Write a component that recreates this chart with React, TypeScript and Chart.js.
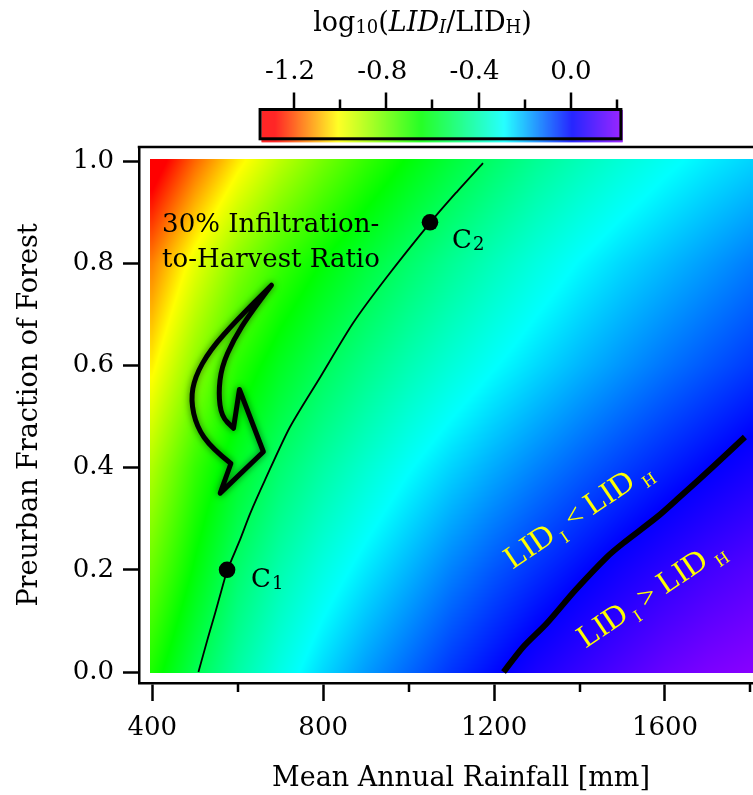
import React, { useEffect, useRef } from 'react';
import { Chart, registerables } from 'chart.js';

Chart.register(...registerables);

const SERIF = '"DejaVu Serif", serif';
const TIMES = '"Liberation Serif", serif';

// ---------------- data ----------------
const rainfallGrid = [400, 500, 600, 700, 800, 900, 1000, 1100, 1200, 1300, 1400, 1500, 1600, 1700, 1800];
const forestGrid = [0, 0.2, 0.4, 0.6, 0.8, 1.0];
const logRatioF00 = [-0.69, -0.545, -0.425, -0.33, -0.25, -0.18, -0.12, -0.06, -0.01, 0.04, 0.08, 0.12, 0.16, 0.19, 0.21];
const logRatioF02 = [-0.8, -0.645, -0.505, -0.41, -0.335, -0.27, -0.21, -0.15, -0.1, -0.055, -0.012, 0.028, 0.065, 0.1, 0.13];
const logRatioF04 = [-0.9, -0.73, -0.6, -0.5, -0.425, -0.36, -0.3, -0.245, -0.197, -0.152, -0.111, -0.073, -0.037, -0.003, 0.03];
const logRatioF06 = [-1.03, -0.855, -0.71, -0.61, -0.53, -0.463, -0.403, -0.349, -0.299, -0.253, -0.211, -0.172, -0.135, -0.101, -0.068];
const logRatioF08 = [-1.15, -0.985, -0.845, -0.735, -0.65, -0.574, -0.507, -0.446, -0.39, -0.338, -0.291, -0.25, -0.215, -0.18, -0.145];
const logRatioF10 = [-1.347, -1.18, -1.037, -0.919, -0.817, -0.726, -0.646, -0.573, -0.506, -0.445, -0.395, -0.35, -0.31, -0.275, -0.245];
const logRatioRows = [logRatioF00, logRatioF02, logRatioF04, logRatioF06, logRatioF08, logRatioF10];
const heatRainfallExtent = [395, 1812];
const heatForestExtent = [-0.002, 1.004];

// 30% infiltration-to-harvest contour (log10 = -0.523)
const contour30Rainfall = [508, 531, 547, 562, 576, 605, 629, 664, 722, 793, 870, 949, 1050, 1110, 1174];
const contour30Forest = [0, 0.069, 0.115, 0.16, 0.2, 0.258, 0.31, 0.376, 0.479, 0.577, 0.683, 0.773, 0.879, 0.937, 0.996];
// LID_I = LID_H contour (log10 = 0)
const contour0Rainfall = [1222, 1268, 1323, 1390, 1464, 1502, 1581, 1635, 1713, 1787];
const contour0Forest = [0, 0.049, 0.095, 0.16, 0.225, 0.252, 0.303, 0.343, 0.402, 0.46];

// case points C1, C2
const caseSubscripts = ['1', '2'];
const caseRainfall = [575, 1050];
const caseForest = [0.2, 0.88];

// curved arrow outline (data coordinates)
const arrowRainfall = [679, 629, 590, 562, 555, 562, 590, 604, 660, 559, 584, 539, 504, 490, 500, 535, 598];
const arrowForest = [0.757, 0.702, 0.65, 0.597, 0.545, 0.5, 0.477, 0.553, 0.431, 0.35, 0.408, 0.438, 0.48, 0.532, 0.578, 0.63, 0.689];

// ticks
const xMajorTicks = [400, 800, 1200, 1600];
const xMinorTicks = [600, 1000, 1400, 1800];
const yTicks = [0, 0.2, 0.4, 0.6, 0.8, 1.0];
const cbMajorTicks = [-1.2, -0.8, -0.4, 0.0];
const cbMinorTicks = [-1.0, -0.6, -0.2, 0.2];
const cbRange = [-1.347, 0.217];

// colour table
const cmapValues = [-1.347, -1.29, -1.015, -0.655, -0.295, 0.0, 0.217];
const cmapColors = ['#ff0000', '#ff0000', '#ffff00', '#00ff00', '#00ffff', '#0000ff', '#8c00ff'];

// ---------------- helpers ----------------
const cmapRGB = cmapColors.map((h) => [parseInt(h.slice(1, 3), 16), parseInt(h.slice(3, 5), 16), parseInt(h.slice(5, 7), 16)]);

function colorFor(v: number): number[] {
  const n = cmapValues.length;
  if (v <= cmapValues[0]) return cmapRGB[0];
  if (v >= cmapValues[n - 1]) return cmapRGB[n - 1];
  let k = 0;
  while (k < n - 2 && v > cmapValues[k + 1]) k++;
  const t = (v - cmapValues[k]) / (cmapValues[k + 1] - cmapValues[k]);
  const a = cmapRGB[k], b = cmapRGB[k + 1];
  return [a[0] + (b[0] - a[0]) * t, a[1] + (b[1] - a[1]) * t, a[2] + (b[2] - a[2]) * t];
}

function fieldAt(r: number, f: number): number {
  const nr = rainfallGrid.length, nf = forestGrid.length;
  const rc = Math.min(Math.max(r, rainfallGrid[0]), rainfallGrid[nr - 1]);
  const fc = Math.min(Math.max(f, forestGrid[0]), forestGrid[nf - 1]);
  let i = 0;
  while (i < nr - 2 && rc > rainfallGrid[i + 1]) i++;
  let j = 0;
  while (j < nf - 2 && fc > forestGrid[j + 1]) j++;
  const tx = (rc - rainfallGrid[i]) / (rainfallGrid[i + 1] - rainfallGrid[i]);
  const ty = (fc - forestGrid[j]) / (forestGrid[j + 1] - forestGrid[j]);
  const a = logRatioRows[j][i], b = logRatioRows[j][i + 1];
  const c = logRatioRows[j + 1][i], d = logRatioRows[j + 1][i + 1];
  return (a * (1 - tx) + b * tx) * (1 - ty) + (c * (1 - tx) + d * tx) * ty;
}

type Part = { t: string; size: number; italic?: boolean; dy?: number; gap?: number; family?: string };

function drawRich(ctx: CanvasRenderingContext2D, parts: Part[], x: number, y: number, align: 'left' | 'center') {
  const fontOf = (p: Part) => `${p.italic ? 'italic ' : ''}${p.size}px ${p.family || SERIF}`;
  const widths = parts.map((p) => {
    ctx.font = fontOf(p);
    return ctx.measureText(p.t).width + (p.gap || 0);
  });
  const total = widths.reduce((s, w) => s + w, 0);
  let cx = align === 'center' ? x - total / 2 : x;
  ctx.textAlign = 'left';
  ctx.textBaseline = 'alphabetic';
  parts.forEach((p, i) => {
    ctx.font = fontOf(p);
    ctx.fillText(p.t, cx + (p.gap || 0), y + (p.dy || 0));
    cx += widths[i];
  });
}

// ---------------- annotation layout ----------------
const notes = {
  infiltration: { x: 423, y: 0.861, lines: ['30% Infiltration-', 'to-Harvest Ratio'], lineGap: 35, size: 26 },
  caseLabelOffsets: [[24, 17.5], [22, 26]],
  lidLess: { x: 1408, y: 0.2935, sign: '<' },
  lidMore: { x: 1579, y: 0.139, sign: '>' },
  lidAngleDeg: -34,
};

const heatmapPlugin = {
  id: 'heatmap',
  beforeDatasetsDraw(chart: any) {
    const { ctx } = chart;
    const xs = chart.scales.x, ys = chart.scales.y;
    const left = Math.round(xs.getPixelForValue(heatRainfallExtent[0]));
    const right = Math.min(Math.round(xs.getPixelForValue(heatRainfallExtent[1])), chart.width);
    const top = Math.round(ys.getPixelForValue(heatForestExtent[1]));
    const bottom = Math.round(ys.getPixelForValue(heatForestExtent[0]));
    const w = right - left, h = bottom - top;
    if (w <= 0 || h <= 0) return;
    const off = document.createElement('canvas');
    off.width = w;
    off.height = h;
    const octx = off.getContext('2d')!;
    const img = octx.createImageData(w, h);
    const rs: number[] = [];
    for (let i = 0; i < w; i++) rs.push(xs.getValueForPixel(left + i + 0.5));
    for (let j = 0; j < h; j++) {
      const f = ys.getValueForPixel(top + j + 0.5);
      for (let i = 0; i < w; i++) {
        const c = colorFor(fieldAt(rs[i], f));
        const k = (j * w + i) * 4;
        img.data[k] = c[0];
        img.data[k + 1] = c[1];
        img.data[k + 2] = c[2];
        img.data[k + 3] = 255;
      }
    }
    octx.putImageData(img, 0, 0);
    ctx.drawImage(off, left, top);
  },
};

function smoothPath(ctx: CanvasRenderingContext2D, pts: number[][]) {
  for (let i = 1; i < pts.length - 1; i++) {
    const mx = (pts[i][0] + pts[i + 1][0]) / 2, my = (pts[i][1] + pts[i + 1][1]) / 2;
    ctx.quadraticCurveTo(pts[i][0], pts[i][1], mx, my);
  }
  const last = pts[pts.length - 1];
  ctx.lineTo(last[0], last[1]);
}

const annotationPlugin = {
  id: 'annotations',
  afterDatasetsDraw(chart: any) {
    const { ctx } = chart;
    const xs = chart.scales.x, ys = chart.scales.y;
    const P = (r: number, f: number) => [xs.getPixelForValue(r), ys.getPixelForValue(f)];
    ctx.save();

    // curved arrow
    const pts = arrowRainfall.map((r, i) => P(r, arrowForest[i]));
    ctx.beginPath();
    ctx.moveTo(pts[0][0], pts[0][1]);
    smoothPath(ctx, pts.slice(0, 7));
    for (let i = 7; i <= 10; i++) ctx.lineTo(pts[i][0], pts[i][1]);
    smoothPath(ctx, [...pts.slice(10, 17), pts[0]]);
    ctx.closePath();
    ctx.lineWidth = 5;
    ctx.lineJoin = 'round';
    ctx.lineCap = 'round';
    ctx.strokeStyle = '#000';
    ctx.shadowColor = 'rgba(0,0,0,0.55)';
    ctx.shadowBlur = 7;
    ctx.stroke();
    ctx.shadowBlur = 0;
    ctx.shadowColor = 'transparent';

    // infiltration label
    const inf = notes.infiltration;
    const [ix, iy] = P(inf.x, inf.y);
    ctx.fillStyle = '#000';
    ctx.font = `${inf.size}px ${SERIF}`;
    ctx.textAlign = 'left';
    ctx.textBaseline = 'alphabetic';
    inf.lines.forEach((line, k) => ctx.fillText(line, ix, iy + k * inf.lineGap));

    // case labels
    caseSubscripts.forEach((s, k) => {
      const [cx, cy] = P(caseRainfall[k], caseForest[k]);
      const off = notes.caseLabelOffsets[k];
      drawRich(ctx, [
        { t: 'C', size: 26 },
        { t: s, size: 18, dy: 2, gap: 1 },
      ], cx + off[0], cy + off[1], 'left');
    });

    // LID comparison labels
    ctx.fillStyle = '#ffff00';
    [notes.lidLess, notes.lidMore].forEach((n) => {
      const [lx, ly] = P(n.x, n.y);
      ctx.save();
      ctx.translate(lx, ly);
      ctx.rotate((notes.lidAngleDeg * Math.PI) / 180);
      drawRich(ctx, [
        { t: 'LID', size: 32, family: TIMES },
        { t: 'I', size: 18, dy: 8, gap: 5, family: TIMES },
        { t: ' ' + n.sign + ' ', size: 30, family: TIMES },
        { t: 'LID', size: 32, family: TIMES },
        { t: 'H', size: 18, dy: 8, gap: 7, family: TIMES },
      ], 0, 0, 'center');
      ctx.restore();
    });
    ctx.restore();
  },
  afterDraw(chart: any) {
    const { ctx, chartArea } = chart;
    const xs = chart.scales.x, cb = chart.scales.cb;
    ctx.save();
    ctx.strokeStyle = '#000';
    ctx.fillStyle = '#000';

    // top frame line
    ctx.lineWidth = 2.5;
    ctx.beginPath();
    ctx.moveTo(chartArea.left - 1.25, chartArea.top);
    ctx.lineTo(chartArea.right, chartArea.top);
    ctx.stroke();

    // minor x ticks
    xMinorTicks.forEach((v) => {
      const x = Math.round(xs.getPixelForValue(v));
      ctx.beginPath();
      ctx.moveTo(x, chartArea.bottom);
      ctx.lineTo(x, chartArea.bottom + 9);
      ctx.stroke();
    });

    // x axis title
    ctx.font = `27px ${SERIF}`;
    ctx.textAlign = 'center';
    ctx.textBaseline = 'alphabetic';
    ctx.fillText('Mean Annual Rainfall [mm]', 461, 786);

    // colour bar
    const c0 = cb.getPixelForValue(cbRange[0]);
    const c1 = cb.getPixelForValue(cbRange[1]);
    const barTop = 109.5, barBottom = 138.8;
    for (let x = Math.floor(c0); x < Math.ceil(c1); x++) {
      const c = colorFor(cb.getValueForPixel(x + 0.5));
      ctx.fillStyle = `rgb(${Math.round(c[0])},${Math.round(c[1])},${Math.round(c[2])})`;
      ctx.fillRect(x + 1.5, barTop + 0.5, 1.2, barBottom - barTop + 3);
    }
    ctx.strokeStyle = '#000';
    ctx.lineWidth = 3;
    ctx.strokeRect(c0, barTop, c1 - c0, barBottom - barTop);

    ctx.lineWidth = 2.5;
    cbMajorTicks.forEach((v) => {
      const x = Math.round(cb.getPixelForValue(v));
      ctx.beginPath();
      ctx.moveTo(x, barTop - 1.5);
      ctx.lineTo(x, barTop - 17);
      ctx.stroke();
    });
    cbMinorTicks.forEach((v) => {
      const x = Math.round(cb.getPixelForValue(v));
      ctx.beginPath();
      ctx.moveTo(x, barTop - 1.5);
      ctx.lineTo(x, barTop - 10);
      ctx.stroke();
    });
    ctx.fillStyle = '#000';
    ctx.font = `26px ${SERIF}`;
    ctx.textAlign = 'center';
    ctx.textBaseline = 'middle';
    cbMajorTicks.forEach((v) => {
      ctx.fillText(v.toFixed(1), cb.getPixelForValue(v) - (v < 0 ? 4 : 0), 72);
    });

    // colour bar title
    drawRich(ctx, [
      { t: 'log', size: 27 },
      { t: '10', size: 18, dy: 2 },
      { t: '(', size: 27 },
      { t: 'LID', size: 27, italic: true },
      { t: 'I', size: 18, italic: true, dy: 2 },
      { t: '/', size: 27 },
      { t: 'LID', size: 27 },
      { t: 'H', size: 18, dy: 2 },
      { t: ')', size: 27 },
    ], 422.5, 31, 'center');
    ctx.restore();
  },
};

export default function App() {
  const ref = useRef<HTMLCanvasElement>(null);
  useEffect(() => {
    const canvas = ref.current;
    if (!canvas) return;
    const chart = new Chart(canvas, {
      type: 'scatter',
      data: {
        datasets: [
          {
            data: contour30Rainfall.map((r, i) => ({ x: r, y: contour30Forest[i] })),
            showLine: true,
            borderColor: '#000',
            borderWidth: 1.8,
            pointRadius: 0,
            tension: 0.25,
            xAxisID: 'x',
            yAxisID: 'y',
          },
          {
            data: contour0Rainfall.map((r, i) => ({ x: r, y: contour0Forest[i] })),
            showLine: true,
            borderColor: '#000',
            borderWidth: 6,
            pointRadius: 0,
            tension: 0.25,
            borderCapStyle: 'butt',
            xAxisID: 'x',
            yAxisID: 'y',
          },
          {
            data: caseRainfall.map((r, i) => ({ x: r, y: caseForest[i] })),
            showLine: false,
            pointRadius: 8.3,
            pointBackgroundColor: '#000',
            pointBorderWidth: 0,
            xAxisID: 'x',
            yAxisID: 'y',
          },
        ],
      } as any,
      options: {
        animation: false,
        responsive: false,
        maintainAspectRatio: false,
        devicePixelRatio: 1,
        layout: { autoPadding: false, padding: { top: 147, left: 0, right: 0, bottom: 0 } },
        plugins: { legend: { display: false }, tooltip: { enabled: false }, title: { display: false } },
        events: [],
        scales: {
          x: {
            type: 'linear',
            axis: 'x',
            position: 'bottom',
            min: 368.9,
            max: 1806,
            bounds: 'data',
            afterBuildTicks: (s: any) => {
              s.ticks = xMajorTicks.map((v) => ({ value: v }));
            },
            afterFit: (s: any) => {
              s.height = 112;
            },
            grid: { drawOnChartArea: false, drawTicks: true, tickLength: 18, tickWidth: 2.5, tickColor: '#000' },
            border: { display: true, color: '#000', width: 2.5 },
            ticks: {
              autoSkip: false,
              maxRotation: 0,
              padding: 12,
              color: '#000',
              font: { family: SERIF, size: 26 },
              callback: (v: any) => String(v),
            },
          },
          y: {
            type: 'linear',
            axis: 'y',
            position: 'left',
            min: -0.0215,
            max: 1.0274,
            bounds: 'data',
            afterBuildTicks: (s: any) => {
              s.ticks = yTicks.map((v) => ({ value: v }));
            },
            afterFit: (s: any) => {
              s.width = 139;
            },
            grid: { drawOnChartArea: false, drawTicks: true, tickLength: 16, tickWidth: 2.5, tickColor: '#000' },
            border: { display: true, color: '#000', width: 2.5 },
            ticks: {
              padding: 9,
              color: '#000',
              font: { family: SERIF, size: 26 },
              callback: (v: any) => Number(v).toFixed(1),
            },
            title: {
              display: true,
              text: 'Preurban Fraction of Forest',
              color: '#000',
              font: { family: SERIF, size: 27 },
              padding: { top: 14, bottom: 0 },
            },
          },
          cb: {
            type: 'linear',
            axis: 'x',
            position: 'top',
            display: false,
            bounds: 'data',
            min: -1.8718,
            max: 0.7895,
          },
        },
      } as any,
      plugins: [heatmapPlugin, annotationPlugin],
    });
    return () => chart.destroy();
  }, []);
  return (
    <div style={{ position: 'fixed', left: 0, top: 0, width: 753, height: 795, background: '#fff', overflow: 'hidden' }}>
      <canvas ref={ref} width={753} height={795} style={{ display: 'block', width: 753, height: 795 }} />
    </div>
  );
}
